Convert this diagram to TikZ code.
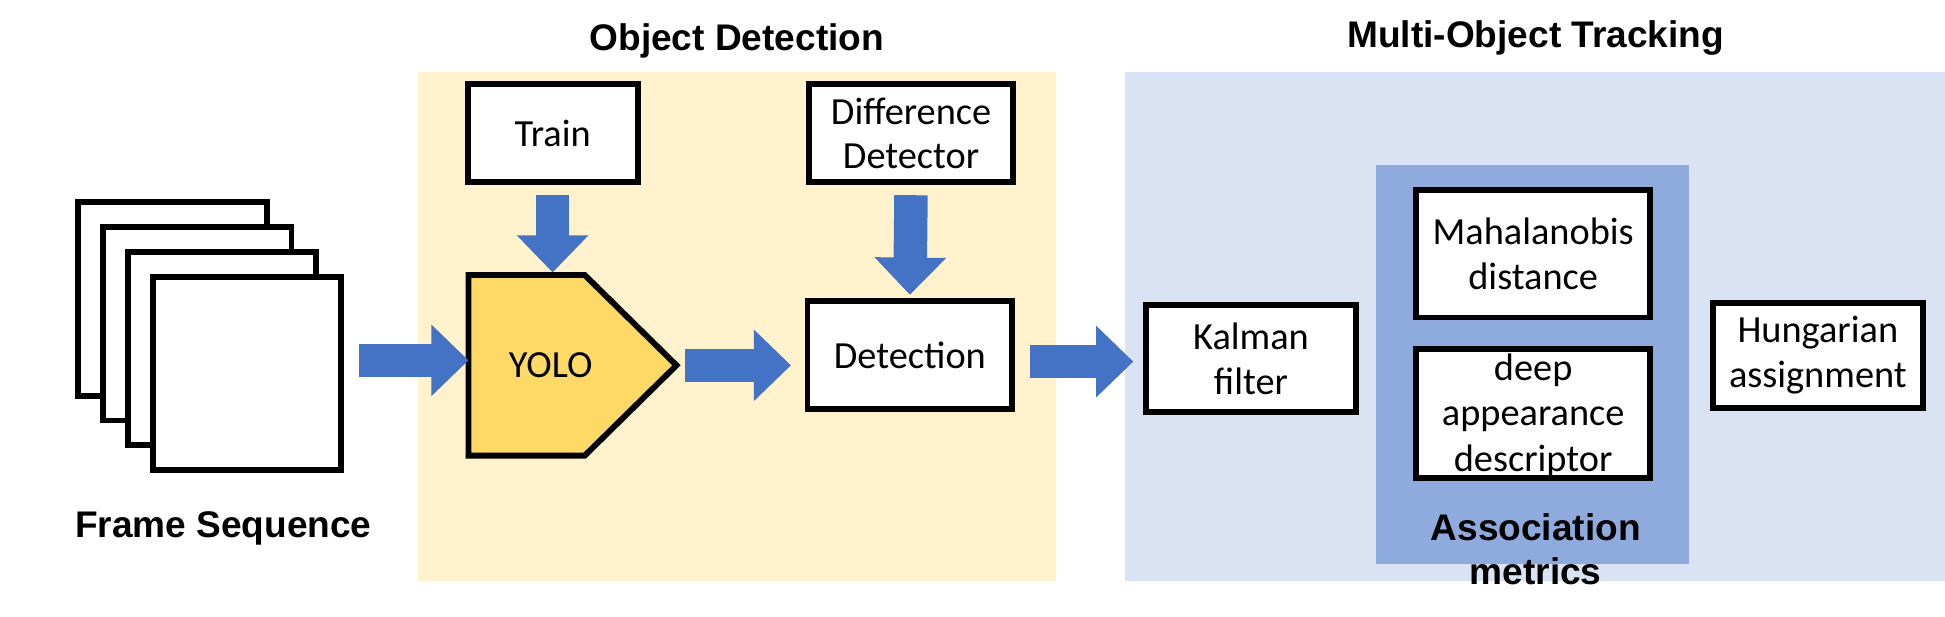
\documentclass[tikz,border=0pt]{standalone}
\usepackage{fontspec}
\setmainfont{Carlito}
\newfontfamily\headfont{Liberation Sans}
\usetikzlibrary{arrows.meta,positioning}

\definecolor{detectbg}{HTML}{FFF2CC}
\definecolor{trackbg}{HTML}{DAE3F3}
\definecolor{assocbg}{HTML}{8FAADC}
\definecolor{arrowblue}{HTML}{4472C4}
\definecolor{yolofill}{HTML}{FFD966}

\tikzset{
  procbox/.style={draw, line width=2.7pt, fill=white, align=center, inner sep=0pt,
    font=\fontsize{17.6}{20.5}\selectfont},
  framebox/.style={draw, line width=2.7pt, fill=white, minimum width=3.04cm, minimum height=3.12cm},
  boxtext/.style={align=center, font=\fontsize{17.6}{21}\selectfont},
  headtext/.style={align=center, font=\headfont\bfseries\fontsize{17}{20}\selectfont},
  blockarrow/.style={arrowblue, line width=0.54cm, -{Triangle[length=0.6cm,width=1.12cm]}},
}

\begin{document}
\begin{tikzpicture}[x=0.02cm,y=-0.02cm,line join=miter]
  \useasboundingbox (0,0) rectangle (1568,497);
  % backgrounds
  \fill[detectbg] (337,58) rectangle (851,468);
  \fill[trackbg] (907,58) rectangle (1568,468);
  \fill[assocbg] (1109,133) rectangle (1362,455);
  \node[headtext] (dettitle) at (594,33) {Object Detection};
  \node[headtext] (tracktitle) at (1238,31) {Multi-Object Tracking};

  % frame sequence
  \foreach \i in {0,...,3}
    \node[framebox] (frame\i) at (139+20*\i,241+20*\i) {};
  \node[headtext] (framelabel) at (180,426) {Frame Sequence};

  % object detection
  \node[procbox, minimum width=2.74cm, minimum height=1.58cm] (train) at (445.5,107.5) {Train};
  \node[procbox, minimum width=3.3cm, minimum height=1.58cm] (diff) at (734.5,107.5) {Difference\\Detector};
  \node[procbox, minimum width=3.3cm, minimum height=1.74cm] (detection) at (733.5,286.5) {Detection};
  \node[minimum width=3.34cm, minimum height=2.9cm] (yolo) at (461.5,294.5) {};
  \draw[line width=2.7pt, fill=yolofill] (yolo.north west) -- ([xshift=-1.48cm]yolo.north east)
    -- (yolo.east) -- ([xshift=-1.48cm]yolo.south east) -- (yolo.south west) -- cycle;
  \node[boxtext] (yolotext) at ([xshift=-0.35cm]yolo.center) {YOLO};

  % tracking
  \node[procbox, minimum width=3.38cm, minimum height=1.72cm] (kalman) at (1008.5,289) {Kalman\\filter};
  \node[procbox, minimum width=3.78cm, minimum height=2.06cm] (maha) at (1236,204.5) {Mahalanobis\\distance};
  \node[procbox, minimum width=3.78cm, minimum height=2.08cm] (deep) at (1236,333) {};
  \node[boxtext] (deeptext) at (1236,335) {deep\\appearance\\descriptor};
  \node[procbox, minimum width=3.38cm, minimum height=1.7cm] (hungarian) at (1465.5,286.5) {Hungarian\\assignment};
  \node[headtext] (assoclabel) at (1238,443) {Association\\metrics};

  % arrows
  \draw[blockarrow, shorten <=0.24cm] ([yshift=0.08cm]frame3.east |- yolo.west) -- ([yshift=0.08cm]yolo.west);
  \draw[blockarrow, shorten <=0.16cm, shorten >=0.04cm] (train.south) -- (train.south |- yolo.north);
  \draw[blockarrow, shorten <=0.16cm, shorten >=0.06cm] (diff.south) -- (detection.north);
  \draw[blockarrow, shorten <=0.14cm, shorten >=0.22cm] (yolo.east) -- (yolo.east -| detection.west);
  \draw[blockarrow, shorten <=0.24cm, shorten >=0.16cm] ([yshift=-0.1cm]detection.east)
    -- ([yshift=-0.1cm]detection.east -| kalman.west);
\end{tikzpicture}
\end{document}
